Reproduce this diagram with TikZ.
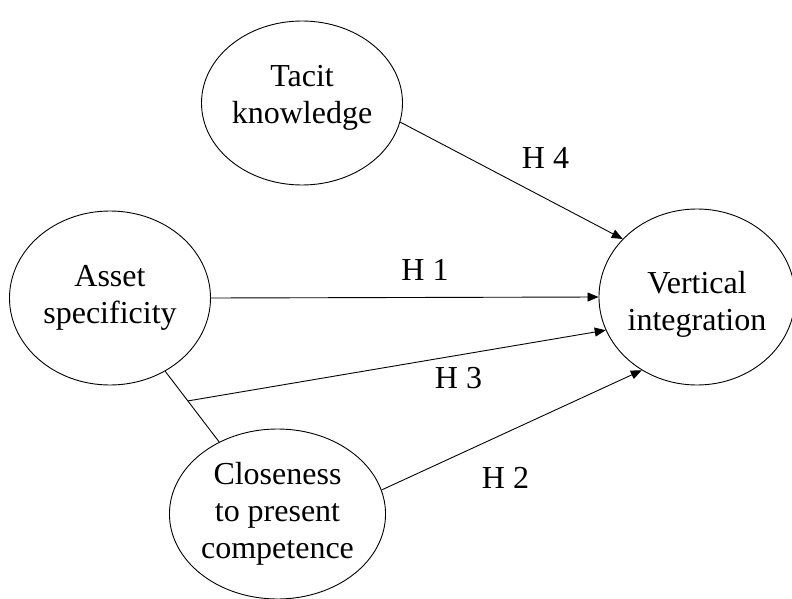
\documentclass[tikz,border=0pt]{standalone}
\usepackage{fontspec}
\setmainfont{Liberation Serif}
\usetikzlibrary{arrows.meta,shapes.geometric}
\tikzset{
  construct/.style = {ellipse, draw, line width=0.9pt, minimum width=201pt,
                      minimum height=172pt, inner sep=0pt, align=center,
                      font=\fontsize{32}{37}\selectfont},
  flow/.style      = {-{Triangle[length=11pt,width=9pt]}, line width=0.9pt},
  link/.style      = {line width=0.9pt},
  hyp/.style       = {anchor=base, inner sep=0pt, font=\fontsize{32}{37}\selectfont},
}

\begin{document}
\begin{tikzpicture}[x=1pt,y=-1pt]
\useasboundingbox (0,0) rectangle (792,599);
% the four constructs
\node[construct, minimum height=164pt] (tacit) at (302,103) {Tacit\\knowledge\rule[-17pt]{0pt}{17pt}};
\node[construct, minimum height=174pt] (asset) at (110,298) {Asset\\specificity};
\node[construct, minimum width=190pt, minimum height=176pt] (vert) at (697,297) {\rule{0pt}{36pt}Vertical\\integration};
\node[construct, minimum height=170pt] (close) at (277.5,514) {Closeness\\to present\\competence};

% interaction of asset specificity and closeness
\draw[link] (asset.-53.6) -- coordinate[pos=0.42] (join) (close.129.6);

% hypotheses
\draw[flow] (tacit.-11) -- (vert.142.6);
\draw[flow] (asset.0) -- (vert.180);
\draw[flow] (join) -- (vert.200.9);
\draw[flow] (close.13) -- (vert.233);

\node[hyp] (h4) at (545.5,168) {H 4};
\node[hyp] (h1) at (425,280) {H 1};
\node[hyp] (h3) at (458.5,388) {H 3};
\node[hyp] (h2) at (505.5,488) {H 2};
\end{tikzpicture}
\end{document}
